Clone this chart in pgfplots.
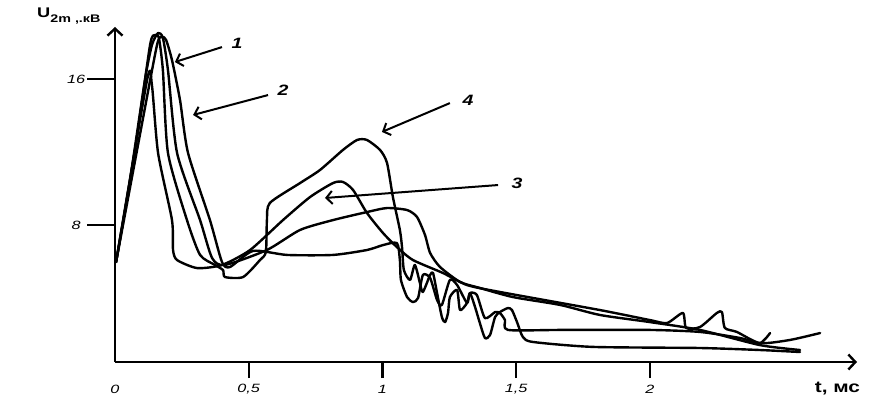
\documentclass[border=0pt]{standalone}
\usepackage{pgfplots}
\pgfplotsset{compat=1.18}
\usepackage{fontspec}
\setmainfont{Liberation Sans}
\usetikzlibrary{arrows.meta}

\begin{document}
\begin{tikzpicture}[x=1pt,y=1pt]
\useasboundingbox (0,0) rectangle (874,405);
\begin{axis}[
  at={(115pt,43pt)}, anchor=south west,
  scale only axis, width=742pt, height=335pt,
  xmin=0, xmax=2.774, ymin=0.493, ymax=18.85,
  axis lines=left,
  axis line style={line width=2.6pt, -{Straight Barb[length=7pt,width=15pt,line width=2.4pt]}},
  xtick={0.5,1,1.5,2}, xticklabels={{0,5},{1},{1,5},{2}},
  extra x ticks={0}, extra x tick labels={0},
  extra x tick style={xtick style={draw=none}},
  ytick={8,16}, yticklabels={{8},{16}},
  tick align=outside, major tick length=16pt,
  xtick style={line width=2.4pt, black},
  ytick style={draw=none},
  ticklabel style={font=\fontsize{12}{14}\selectfont\itshape, xscale=1.35},
  xticklabel style={anchor=center, yshift=-11pt},
  yticklabel style={anchor=center, xshift=-17pt},
  /pgf/number format/assume math mode=true,
  xlabel={\bfseries t, мс},
  xlabel style={at={(axis description cs:0.937,-0.078)}, anchor=west,
    font=\fontsize{16}{18}\selectfont, xscale=1.3},
  ylabel={\fontsize{14}{16}\selectfont\bfseries U\raisebox{-5pt}{\fontsize{11}{13}\selectfont 2m ,.кВ}},
  ylabel style={rotate=-90, at={(axis description cs:-0.111,1.028)}, anchor=base west, xscale=1.3},
  clip=false, no markers, cycle list={{black}},
  every axis plot/.append style={black, line width=2.4pt, line join=round, line cap=round, smooth, tension=0.4},
]
% curve 1
\addplot coordinates {(0.004,5.97) (0.056,10.47) (0.112,15.95) (0.138,17.86) (0.161,18.52) (0.179,18.25) (0.198,16.49) (0.232,11.95) (0.318,8.27) (0.363,6.19) (0.411,5.81) (0.568,6.63) (0.692,7.73) (0.815,8.27) (0.942,8.71) (1.017,8.93) (1.092,8.82) (1.129,8.44) (1.159,7.45) (1.178,6.47) (1.215,5.70) (1.290,4.88) (1.364,4.55) (1.488,4.05) (1.664,3.62) (1.813,3.07) (2.000,2.68) (2.187,2.25) (2.411,1.42) (2.561,1.15)};
% curve 2
\addplot coordinates {(0.004,5.97) (0.093,12.93) (0.157,17.86) (0.176,18.30) (0.191,18.14) (0.213,17.04) (0.243,14.85) (0.273,11.95) (0.355,8.27) (0.400,5.97) (0.430,5.70) (0.516,6.58) (0.643,6.36) (0.815,6.36) (0.942,6.63) (1.002,6.90) (1.054,7.01) (1.065,6.08) (1.069,4.99) (1.092,4.05) (1.114,3.78) (1.133,4.00) (1.151,5.26) (1.178,5.10) (1.204,3.89) (1.222,3.62) (1.252,4.99) (1.279,4.71) (1.316,3.73) (1.327,4.27) (1.353,4.16) (1.383,2.90) (1.421,3.23) (1.439,3.18) (1.458,2.79) (1.469,2.25) (1.664,2.25) (2.000,2.25) (2.187,2.14) (2.336,1.81) (2.411,1.53) (2.449,2.08)};
% curve 3
\addplot coordinates {(0.004,5.97) (0.120,15.95) (0.138,15.67) (0.161,11.95) (0.213,8.27) (0.217,6.63) (0.232,6.08) (0.307,5.64) (0.400,5.81) (0.505,6.63) (0.628,8.27) (0.729,9.53) (0.815,10.30) (0.852,10.36) (0.890,9.92) (0.942,8.66) (1.002,7.56) (1.054,6.79) (1.114,6.08) (1.226,5.37) (1.316,4.71) (1.439,4.33) (1.813,3.34) (2.000,2.79) (2.064,2.63) (2.123,3.18) (2.135,2.36) (2.187,2.41) (2.250,3.18) (2.269,3.23) (2.280,2.36) (2.325,2.14) (2.411,1.53) (2.523,1.70) (2.636,2.08)};
% curve 4
\addplot coordinates {(0.004,5.97) (0.075,12.11) (0.131,17.86) (0.150,18.41) (0.164,18.25) (0.179,16.49) (0.198,11.95) (0.269,8.27) (0.318,6.36) (0.374,5.81) (0.404,5.53) (0.411,5.15) (0.479,5.15) (0.542,6.08) (0.564,6.52) (0.568,8.27) (0.579,9.21) (0.692,10.30) (0.766,11.01) (0.852,12.11) (0.905,12.66) (0.942,12.66) (0.991,12.11) (1.017,11.40) (1.039,9.53) (1.065,7.73) (1.073,6.79) (1.080,5.53) (1.103,4.99) (1.121,5.81) (1.140,4.82) (1.151,4.33) (1.178,5.26) (1.189,5.37) (1.204,4.27) (1.222,2.96) (1.234,2.68) (1.245,3.18) (1.252,4.05) (1.279,4.44) (1.290,3.34) (1.316,3.73) (1.327,4.27) (1.346,3.51) (1.364,2.63) (1.383,1.81) (1.402,1.97) (1.421,2.96) (1.439,3.23) (1.469,3.45) (1.484,3.34) (1.503,2.68) (1.525,1.86) (1.563,1.59) (1.787,1.32) (2.187,1.26) (2.411,1.15) (2.561,1.04)};
% y tick marks
\draw[line width=2.4pt] (axis cs:0,16) -- ++(-28pt,0pt);
\draw[line width=2.4pt] (axis cs:0,8) -- ++(-28pt,0pt);
% annotations
\begin{scope}[line width=2pt, -{Straight Barb[length=6pt,width=13pt,line width=2pt]}]
\draw (axis cs:0.400,17.75) -- (axis cs:0.224,16.93);
\draw (axis cs:0.572,15.12) -- (axis cs:0.292,14.03);
\draw (axis cs:1.252,14.68) -- (axis cs:0.998,13.10);
\draw (axis cs:1.432,10.19) -- (axis cs:0.785,9.48);
\end{scope}
\begin{scope}[every node/.style={font=\fontsize{15}{17}\selectfont\bfseries\itshape, xscale=1.3}]
\node at (axis cs:0.456,17.97) {1};
\node at (axis cs:0.628,15.40) {2};
\node at (axis cs:1.320,14.85) {4};
\node at (axis cs:1.503,10.30) {3};
\end{scope}
\end{axis}
\end{tikzpicture}
\end{document}
